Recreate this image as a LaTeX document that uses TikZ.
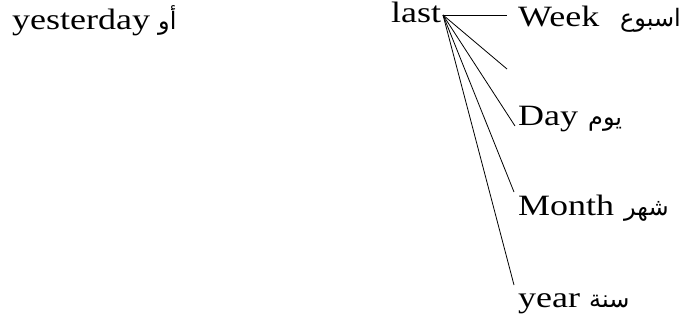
\documentclass[tikz,border=0pt]{standalone}
\usepackage{fontspec}
\setmainfont{Liberation Serif}[FakeStretch=1.22]
\newfontfamily\arabicfont[Script=Arabic]{DejaVu Sans}
\TeXXeTstate=1
\tikzset{
  lat/.style={anchor=base west, inner sep=0pt, font=\fontsize{29.5}{31}\selectfont},
  arb/.style={anchor=base west, inner sep=0pt, font=\arabicfont\fontsize{24}{28}\selectfont},
  conn/.style={line width=0.8pt},
}
\begin{document}
\begin{tikzpicture}[x=1pt,y=-1pt]
\useasboundingbox (0,0) rectangle (683,324);
\node[lat] (yest) at (12,29) {yesterday};
\node[arb] (aw) at (158,29) {\beginR أو\endR};
\node[lat] (last) at (391,23) {last};
\coordinate (o) at (443,15);
\node[lat] (week) at (518,27) {Week};
\node[arb, anchor=base east] (weekA) at (681,27) {\beginR اسبوع\endR};
\coordinate (e2) at (507,69);
\node[lat] (day) at (518,125) {Day};
\node[arb] (dayA) at (588,125) {\beginR يوم\endR};
\node[lat] (month) at (518,215) {Month};
\node[arb] (monthA) at (624,215) {\beginR شهر\endR};
\node[lat] (year) at (518,307) {year};
\node[arb] (yearA) at (589,307) {\beginR سنة\endR};
\coordinate (e1) at (507,15);
\coordinate (e3) at (515,126);
\coordinate (e4) at (514,192);
\coordinate (e5) at (514,285);
\draw[conn] (o) -- (e1);
\draw[conn] (o) -- (e2);
\draw[conn] (o) -- (e3);
\draw[conn] (o) -- (e4);
\draw[conn] (o) -- (e5);
\end{tikzpicture}
\end{document}
